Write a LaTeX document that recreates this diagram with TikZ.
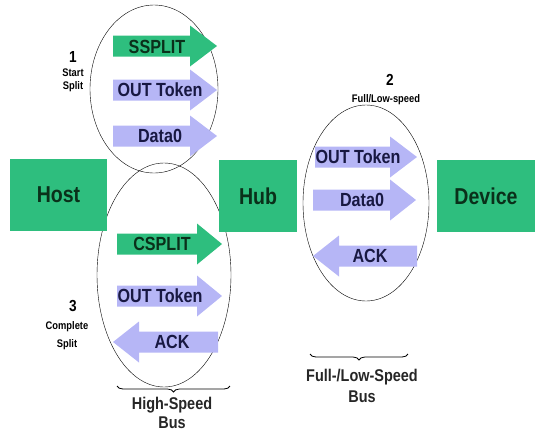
\documentclass[tikz,border=0pt]{standalone}
\usepackage{fontspec}
\setmainfont{Liberation Sans}[FakeStretch=0.85]
\usepackage{xcolor}
\usepackage{tikz}
\usetikzlibrary{decorations}
\usetikzlibrary{decorations.pathreplacing}
\usetikzlibrary{calc}

\definecolor{boxgreen}{RGB}{46,190,126}
\definecolor{pktblue}{RGB}{182,182,246}
\definecolor{txtnavy}{RGB}{24,24,66}
\definecolor{txtgreen}{RGB}{10,48,26}

\tikzset{
  station/.style={fill=boxgreen,text=txtgreen,inner sep=0pt,minimum height=72pt,
    font=\fontsize{23}{25}\selectfont\bfseries},
  pkt/.style={text=txtnavy,inner sep=0pt,font=\fontsize{19}{21}\selectfont\bfseries},
  steplbl/.style={inner sep=0pt,font=\fontsize{11}{12}\selectfont\bfseries},
  stepnum/.style={inner sep=0pt,font=\fontsize{16}{18}\selectfont\bfseries},
  buslbl/.style={inner sep=0pt,font=\fontsize{17}{19}\selectfont\bfseries,text=black!85},
  busbrace/.style={thick,decorate,decoration={brace,mirror,amplitude=6pt}},
}

% right / left packet arrows: tail x, head base x, tip x, y, colour
\newcommand{\rarrow}[5]{\fill[#5] (#1,#4-10.5) -- (#2,#4-10.5) -- (#2,#4-20.5) -- (#3,#4)
  -- (#2,#4+20.5) -- (#2,#4+10.5) -- (#1,#4+10.5) -- cycle;}

\begin{document}
\begin{tikzpicture}[x=1pt,y=-1pt]
\useasboundingbox (0,0) rectangle (535,432);

% the three bus phases
\draw[thin] (154,89) ellipse [x radius=64,y radius=84];
\draw[thin] (164,275) ellipse [x radius=67,y radius=112];
\draw[thin] (366,203) ellipse [x radius=63,y radius=98];

\node[station,minimum width=97pt] (host) at (58.5,195) {Host};
\node[station,minimum width=78pt] (hub) at (258,196) {Hub};
\node[station,minimum width=98pt] (dev) at (486,196) {Device};

% 1 - start split
\rarrow{113}{190}{217}{46}{boxgreen}
\node[pkt,text=txtgreen] (ss) at (157,47) {SSPLIT};
\rarrow{113}{190}{217}{90}{pktblue}
\node[pkt] (out1) at (160,90) {OUT Token};
\rarrow{113}{190}{217}{136}{pktblue}
\node[pkt] (data1) at (160,136) {Data0};
\node[stepnum] (n1) at (73,57) {1};
\node[steplbl] (s1a) at (73,73) {Start};
\node[steplbl] (s1b) at (73,87) {Split};

% 2 - full/low-speed
\rarrow{315}{390}{417}{157}{pktblue}
\node[pkt] (out2) at (358,157) {OUT Token};
\rarrow{313}{390}{416}{200}{pktblue}
\node[pkt] (data2) at (362,200) {Data0};
\rarrow{417}{339}{313}{256}{pktblue}
\node[pkt] (ack2) at (370,256) {ACK};
\node[stepnum] (n2) at (390,80) {2};
\node[steplbl] (s2) at (386,100) {Full/Low-speed};

% 3 - complete split
\rarrow{117}{197}{222}{244}{boxgreen}
\node[pkt,text=txtgreen] (cs) at (162,244) {CSPLIT};
\rarrow{117}{197}{222}{296}{pktblue}
\node[pkt] (out3) at (160,296) {OUT Token};
\rarrow{218}{139}{113}{342}{pktblue}
\node[pkt] (ack3) at (172,342) {ACK};
\node[stepnum] (n3) at (73,306) {3};
\node[steplbl] (s3a) at (67,327) {Complete};
\node[steplbl] (s3b) at (67,345) {Split};

% bus braces
\coordinate (hsA) at (117,386);
\coordinate (hsB) at (230,386);
\draw[busbrace] (hsA)--(hsB);
\node[buslbl] (hs1) at (172,405) {High-Speed};
\node[buslbl] (hs2) at (172,423) {Bus};
\coordinate (flA) at (310,354);
\coordinate (flB) at (408,354);
\draw[busbrace] (flA)--(flB);
\node[buslbl] (fl1) at (362,377) {Full-/Low-Speed};
\node[buslbl] (fl2) at (362,397) {Bus};

\end{tikzpicture}
\end{document}
